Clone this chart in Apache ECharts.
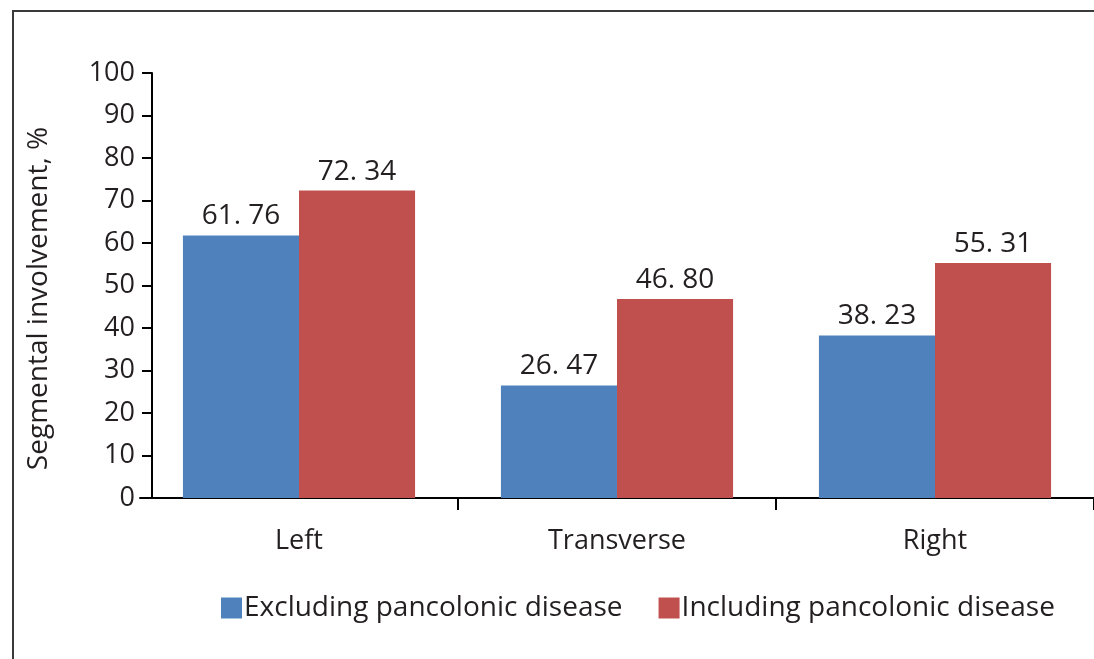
<!DOCTYPE html>
<html>
<head>
<meta charset="utf-8">
<script src="https://cdn.jsdelivr.net/npm/echarts@6/dist/echarts.min.js"></script>
<style>
  html, body { margin: 0; padding: 0; background: #fff; }
  #chart { position: absolute; left: 0; top: 0; width: 1094px; height: 659px; }
  #frame { position: absolute; left: 12px; top: 10px; width: 1100px; height: 700px;
           border-left: 2px solid #3a3a3a; border-top: 2px solid #3a3a3a; pointer-events: none; }
</style>
</head>
<body>
<div id="chart"></div>
<div id="frame"></div>
<script>
// Colon segments and share of patients with involvement (%)
const segments = ['Left', 'Transverse', 'Right'];
const excludingPancolonic = [61.76, 26.47, 38.23];
const includingPancolonic = [72.34, 46.80, 55.31];
const seriesNames = ['Excluding pancolonic disease', 'Including pancolonic disease'];
const yTicks = [0, 10, 20, 30, 40, 50, 60, 70, 80, 90, 100];

const ink = '#231f20';
const font = 'Open Sans';

const chart = echarts.init(document.getElementById('chart'), null, { renderer: 'canvas' });

const valueLabel = {
  show: true,
  position: 'top',
  distance: 5,
  color: ink,
  fontFamily: font,
  fontSize: 28,
  formatter: p => p.value.toFixed(2).replace('.', '. ')
};

chart.setOption({
  animation: false,
  backgroundColor: '#fff',
  grid: { left: 140, top: 73, width: 960, bottom: 161, containLabel: false },
  legend: {
    data: seriesNames,
    left: 216,
    top: 589,
    icon: 'rect',
    itemWidth: 21,
    itemHeight: 21,
    itemGap: 36,
    textStyle: { color: ink, fontFamily: font, fontSize: 28, padding: [0, 0, 0, -3] }
  },
  xAxis: {
    type: 'category',
    data: segments,
    axisLine: { lineStyle: { color: '#000', width: 2 } },
    axisTick: {
      show: true,
      length: 12,
      lineStyle: { color: '#000', width: 2 },
      interval: (i) => i !== 0
    },
    axisLabel: { color: ink, fontFamily: font, fontSize: 27, margin: 30 }
  },
  yAxis: {
    type: 'value',
    min: yTicks[0],
    max: yTicks[yTicks.length - 1],
    interval: 10,
    offset: -12,
    name: 'Segmental involvement, %',
    nameLocation: 'middle',
    nameGap: 99,
    nameTextStyle: { color: ink, fontFamily: font, fontSize: 28, padding: [0, 26, 0, 0] },
    axisLine: { show: true, lineStyle: { color: '#000', width: 2 } },
    axisTick: { show: true, length: 10, lineStyle: { color: '#000', width: 2 } },
    axisLabel: { color: ink, fontFamily: font, fontSize: 27, margin: 17 },
    splitLine: { show: false }
  },
  series: [
    {
      name: seriesNames[0],
      type: 'bar',
      data: excludingPancolonic,
      barGap: '0%',
      barCategoryGap: '27%',
      itemStyle: { color: '#4f81bd' },
      label: valueLabel
    },
    {
      name: seriesNames[1],
      type: 'bar',
      data: includingPancolonic,
      itemStyle: { color: '#c0504d' },
      label: valueLabel
    }
  ]
});
</script>
</body>
</html>
